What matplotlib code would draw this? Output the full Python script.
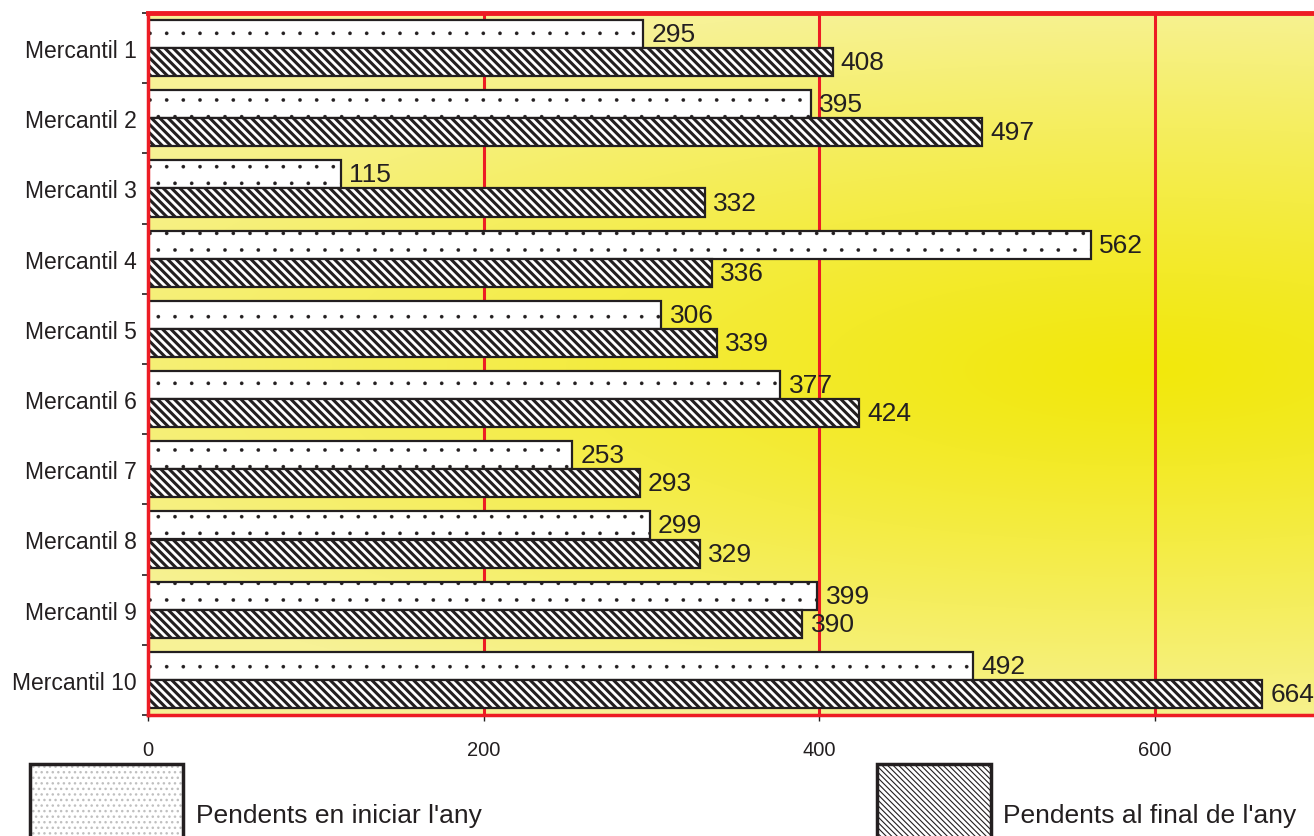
import numpy as np
import matplotlib
matplotlib.use("Agg")
import matplotlib.pyplot as plt
from matplotlib.patches import Rectangle

plt.rcParams['font.family'] = ['Liberation Sans', 'DejaVu Sans']

# Dades
categories = ["Mercantil 1", "Mercantil 2", "Mercantil 3", "Mercantil 4", "Mercantil 5",
              "Mercantil 6", "Mercantil 7", "Mercantil 8", "Mercantil 9", "Mercantil 10"]
inici = [295, 395, 115, 562, 306, 377, 253, 299, 399, 492]
final = [408, 497, 332, 336, 339, 424, 293, 329, 390, 664]
serie_inici = "Pendents en iniciar l'any"
serie_final = "Pendents al final de l'any"
x_ticks = [0, 200, 400, 600]

fosc = "#231f20"
vermell = "#ed1c24"

W, H = 1314, 837
fig = plt.figure(figsize=(W / 100, H / 100), dpi=100)
ax = fig.add_axes([148 / W, 1 - 716 / H, 1 - 148 / W, (716 - 14) / H])

# Fons amb degradat groc
h, w = 702, 1166
yy, xx = np.mgrid[0:h, 0:w]
t = np.sqrt(((xx - 1000) / 1250) ** 2 + ((yy - 356) / 370) ** 2)
t = np.clip(t, 0, 1) ** 1.2
c0 = np.array([242, 232, 12]) / 255
c1 = np.array([247, 242, 150]) / 255
img = c0 + (c1 - c0) * t[..., None]
ax.imshow(img, extent=[0, 1, 0, 1], transform=ax.transAxes, aspect='auto', zorder=0)

# Linies de la graella
for xt in x_ticks[1:]:
    ax.axvline(xt, color=vermell, lw=2.2, zorder=1)

# Barres
y = np.arange(len(categories))
b1 = ax.barh(y - 0.2, inici, height=0.4, color='white', edgecolor=fosc,
             linewidth=1.6, hatch='.', zorder=2)
b2 = ax.barh(y + 0.2, final, height=0.4, color='white', edgecolor=fosc,
             linewidth=1.6, hatch='\\\\\\\\', zorder=2)
for bars, lw in ((b1, 0.2), (b2, 2.2)):
    for p in bars:
        if hasattr(p, 'set_hatch_linewidth'):
            p.set_hatch_linewidth(lw)
        else:
            plt.rcParams['hatch.linewidth'] = 1.8

ax.bar_label(b1, padding=6, fontsize=19, color=fosc)
ax.bar_label(b2, padding=6, fontsize=19, color=fosc)

# Eixos
ax.set_xlim(0, 695)
ax.set_ylim(len(categories) - 0.5, -0.5)
ax.set_yticks(y)
ax.set_yticklabels(categories)
ax.set_yticks(np.arange(len(categories) + 1) - 0.5, minor=True)
ax.tick_params(axis='y', which='major', length=0, pad=8, labelsize=16.5, labelcolor=fosc)
ax.tick_params(axis='y', which='minor', length=4.5, width=1.2, color=fosc)
ax.set_xticks(x_ticks)
ax.tick_params(axis='x', length=4, width=1, color=fosc, pad=14, labelsize=14.5, labelcolor=fosc)

ax.spines['right'].set_visible(False)
ax.spines['top'].set_color(vermell)
ax.spines['top'].set_linewidth(3.5)
ax.spines['left'].set_color(vermell)
ax.spines['left'].set_linewidth(2.5)
ax.spines['bottom'].set_color(vermell)
ax.spines['bottom'].set_linewidth(2.5)
for s in ax.spines.values():
    s.set_zorder(4)

# Llegenda
top = 1 - 765 / H
fig.patches.append(Rectangle((30 / W, -0.02), 153 / W, top + 0.02, transform=fig.transFigure,
                             facecolor='white', edgecolor='#c0c0c0', hatch='...', lw=0))
fig.patches.append(Rectangle((30 / W, -0.02), 153 / W, top + 0.02, transform=fig.transFigure,
                             facecolor='none', edgecolor=fosc, lw=2.5))
fig.text(196 / W, 1 - 816 / H, serie_inici, fontsize=19, color=fosc, va='center')

leg2 = Rectangle((877 / W, -0.02), 114 / W, top + 0.02, transform=fig.transFigure,
                 facecolor='white', edgecolor=fosc, hatch='\\\\\\\\\\\\', lw=2.5)
if hasattr(leg2, 'set_hatch_linewidth'):
    leg2.set_hatch_linewidth(0.8)
fig.patches.append(leg2)
fig.text(1003 / W, 1 - 816 / H, serie_final, fontsize=19, color=fosc, va='center')

fig.savefig("out.png", dpi=100)
